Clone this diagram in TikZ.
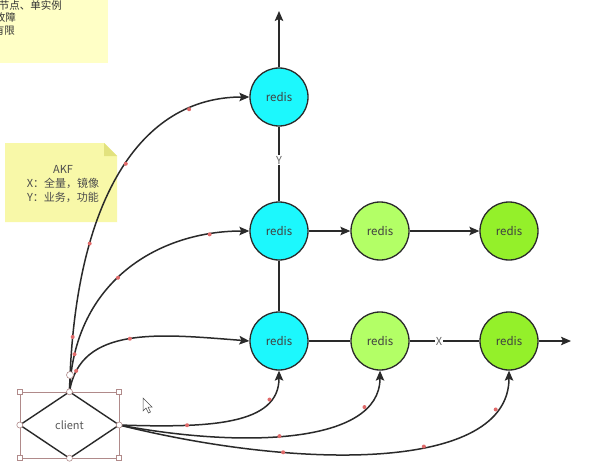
\documentclass[tikz,border=0pt]{standalone}
\usepackage{fontspec}
\setmainfont{Noto Sans CJK SC}
\usetikzlibrary{arrows.meta}
\definecolor{rcyan}{HTML}{1CF8FD}
\definecolor{rgreenA}{HTML}{B3FF66}
\definecolor{rgreenB}{HTML}{94F02A}
\definecolor{noteA}{HTML}{FFFFC6}
\definecolor{noteB}{HTML}{F8F8A8}
\definecolor{noteFold}{HTML}{E2E27E}
\definecolor{linec}{HTML}{2A2A2A}
\definecolor{dotred}{HTML}{E06A6A}
\definecolor{selc}{HTML}{B08A8A}
\tikzset{
  redisnode/.style={circle, draw=linec, line width=1.3pt, minimum size=58pt, inner sep=0pt, text=black!75, font=\fontsize{11.5}{13}\selectfont},
  conn/.style={draw=linec, line width=1.5pt},
  arr/.style={conn, -{Stealth[length=10pt,width=8.5pt,inset=2pt]}},
  rdot/.style={circle, fill=dotred, inner sep=0pt, minimum size=4pt},
  lbl/.style={fill=white, inner sep=1pt, text=black!60, font=\fontsize{11}{12}\selectfont},
  notetext/.style={text=black!80, font=\fontsize{10.5}{13}\selectfont, inner sep=0pt},
  handle/.style={draw=selc, fill=white, line width=0.6pt, inner sep=0pt, minimum size=5pt},
}
\begin{document}
\begin{tikzpicture}[x=1pt,y=-1pt]
\useasboundingbox[fill=white] (0,0) rectangle (602,468);

% notes
\begin{scope}
  \clip (0,0) rectangle (108,63);
  \fill[noteA] (0,0) rectangle (108,63);
  \node[notetext, anchor=east] (n1) at (62,5) {单节点、单实例};
  \node[notetext, anchor=east] (n2) at (16,17) {单点故障};
  \node[notetext, anchor=east] (n3) at (15,30) {容量有限};
\end{scope}
\fill[noteB] (5,143) -- (104,143) -- (117,156) -- (117,222) -- (5,222) -- cycle;
\fill[noteFold] (104,143) -- (117,156) -- (104,156) -- cycle;
\node[notetext, align=center, text=black!70, font=\fontsize{11}{14}\selectfont] (akf) at (63,184) {AKF\\X：全量，镜像\\Y：业务，功能};

% redis nodes
\node[redisnode, fill=rcyan] (r1) at (279,97) {redis};
\node[redisnode, fill=rcyan] (r2) at (279,231) {redis};
\node[redisnode, fill=rgreenA] (g2a) at (380,231) {redis};
\node[redisnode, fill=rgreenB] (g2b) at (509,231) {redis};
\node[redisnode, fill=rcyan] (r3) at (279,341) {redis};
\node[redisnode, fill=rgreenA] (g3a) at (380,341) {redis};
\node[redisnode, fill=rgreenB] (g3b) at (509,341) {redis};
\coordinate (topend) at (279,11);
\coordinate (rightend) at (571,341);

\draw[arr] (r1) -- (topend);
\draw[conn] (r1) -- node[lbl, pos=0.45]{Y} (r2);
\draw[conn] (r2) -- (r3);
\draw[arr] (r2) -- (g2a);
\draw[arr] (g2a) -- (g2b);
\draw[conn] (r3) -- (g3a);
\draw[conn] (g3a) -- node[lbl, pos=0.42]{X} (g3b);
\draw[arr] (g3b) -- (rightend);

% client
\node[minimum width=99pt, minimum height=66pt, inner sep=0pt, text=black!65, font=\fontsize{11}{12}\selectfont] (client) at (69.5,425) {client};
\draw[selc, line width=0.5pt] (client.north west) rectangle (client.south east);

% curves from client top
\draw[arr] (client.north) .. controls (74,200) and (140,97) .. (r1.west)
  node[rdot, pos=0.1]{} node[rdot, pos=0.3]{} node[rdot, pos=0.53]{} node[rdot, pos=0.8]{};
\draw[arr] (client.north) .. controls (74,280) and (160,231) .. (r2.west)
  node[rdot, pos=0.12]{} node[rdot, pos=0.45]{} node[rdot, pos=0.85]{};
\draw[arr] (client.north) .. controls (80,325) and (160,334) .. (r3.west)
  node[rdot, pos=0.12]{} node[rdot, pos=0.5]{};

% curves from client right
\draw[arr] (client.east) .. controls (210,428) and (279,425) .. (r3.south)
  node[rdot, pos=0.27]{} node[rdot, pos=0.78]{};
\draw[arr] (client.east) .. controls (240,448) and (380,445) .. (g3a.south)
  node[rdot, pos=0.45]{} node[rdot, pos=0.8]{};
\draw[arr] (client.east) .. controls (300,470) and (509,472) .. (g3b.south)
  node[rdot, pos=0.3]{} node[rdot, pos=0.6]{} node[rdot, pos=0.85]{};

\draw[linec, line width=1.4pt] (client.north) -- (client.east) -- (client.south) -- (client.west) -- cycle;

% selection handles
\foreach \a in {north west, north east, south west, south east}
  \node[handle] at (client.\a) {};
\foreach \a in {north, south, east, west}
  \node[handle, circle, minimum size=6pt] at (client.\a) {};
\node[handle, circle, minimum size=7pt] (rot) at (70,375) {};

% cursor
\draw[black!70, fill=white, line width=0.5pt, shift={(143,398)}]
  (0,0) -- (0,13) -- (3,10) -- (5.5,15) -- (7.5,14) -- (5,9) -- (9,9) -- cycle;
\end{tikzpicture}
\end{document}
